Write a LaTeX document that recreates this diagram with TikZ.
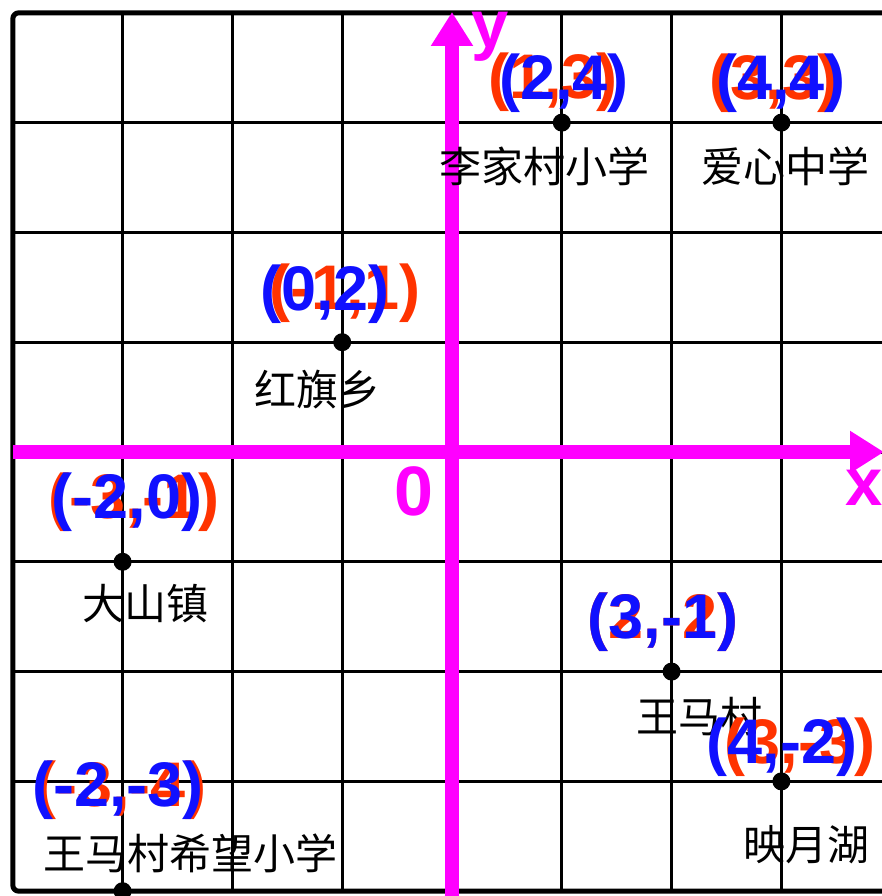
\documentclass[tikz,border=0pt]{standalone}
\usepackage{fontspec}
\setmainfont{Liberation Sans}
\newfontfamily\cjk{Noto Sans CJK SC}
\usetikzlibrary{arrows.meta}
\definecolor{mag}{RGB}{255,0,255}
\definecolor{lblred}{RGB}{255,51,0}
\definecolor{lblblue}{RGB}{16,16,255}
\tikzset{
  gridline/.style={line width=3pt, black},
  frame/.style={line width=5pt, black, rounded corners=6pt},
  axis/.style={line width=14pt, mag, -{Triangle[length=34pt,width=40pt]}},
  pt/.style={circle, fill=black, inner sep=0pt, minimum size=18pt},
  place/.style={font=\cjk\fontsize{42}{42}\selectfont, inner sep=0pt, text=black},
  redlbl/.style={font=\bfseries\fontsize{63}{63}\selectfont, inner sep=0pt, text=lblred},
  bluelbl/.style={font=\bfseries\fontsize{63}{63}\selectfont, inner sep=0pt, text=lblblue},
  axlbl/.style={font=\bfseries\fontsize{67}{67}\selectfont, inner sep=0pt, text=mag},
}
\begin{document}
\begin{tikzpicture}[x=1pt,y=-1pt]
\useasboundingbox (0,0) rectangle (882,896);
\fill[white] (0,0) rectangle (882,896);
\clip (0,0) rectangle (882,896);
% grid
\foreach \k in {-3,-2,-1,0,1,2,3} {
  \draw[gridline] ({452+\k*109.8},12.8) -- ({452+\k*109.8},891.2);
  \draw[gridline] (12.8,{452+\k*109.8}) -- (900,{452+\k*109.8});
}
\draw[frame] (900,12.8) -- (12.8,12.8) -- (12.8,891.2) -- (900,891.2);
% axes
\coordinate (xs) at (12.8,452);
\coordinate (xe) at (884,452);
\coordinate (ys) at (452,896);
\coordinate (ye) at (452,12);
\draw[axis] (xs) -- (xe);
\draw[axis] (ys) -- (ye);
\node[axlbl, anchor=base] (xl) at (864,505) {x};
\node[axlbl, anchor=base] (yl) at (490,48) {y};
\node[axlbl, font=\bfseries\fontsize{70}{70}\selectfont] (ol) at (414,491) {0};
% points
\node[pt] (p1) at (561.8,122.6) {};
\node[pt] (p2) at (781.4,122.6) {};
\node[pt] (p3) at (342.2,342.2) {};
\node[pt] (p4) at (122.6,561.8) {};
\node[pt] (p5) at (671.6,671.6) {};
\node[pt] (p6) at (781.4,781.4) {};
\node[pt] (p7) at (122.6,891.2) {};
% place names
\node[place] (n1) at (544,166) {李家村小学};
\node[place] (n2) at (785,166) {爱心中学};
\node[place] (n3) at (317,390) {红旗乡};
\node[place] (n4) at (145,604) {大山镇};
\node[place] (n5) at (699,717) {王马村};
\node[place] (n6) at (806,845) {映月湖};
\node[place] (n7) at (190,853) {王马村希望小学};
% red labels
\node[redlbl] (r1) at (553,82) {(1,3)};
\node[redlbl] (r2) at (774,83) {(3,3)};
\node[redlbl] (r3) at (345,293) {(-1,1)};
\node[redlbl] (r4) at (134,502) {(-3,-1)};
\node[redlbl] (r5) at (663,622) {(2,-2)};
\node[redlbl] (r6) at (800,747) {(3,-3)};
\node[redlbl] (r7) at (121,790) {(-3,-4)};
% blue labels
\node[bluelbl] (b1) at (564,83) {(2,4)};
\node[bluelbl] (b2) at (781,83) {(4,4)};
\node[bluelbl] (b3) at (325,294) {(0,2)};
\node[bluelbl] (b4) at (127,502) {(-2,0)};
\node[bluelbl] (b5) at (663,622) {(3,-1)};
\node[bluelbl] (b6) at (782,747) {(4,-2)};
\node[bluelbl] (b7) at (118,790) {(-2,-3)};
\end{tikzpicture}
\end{document}
